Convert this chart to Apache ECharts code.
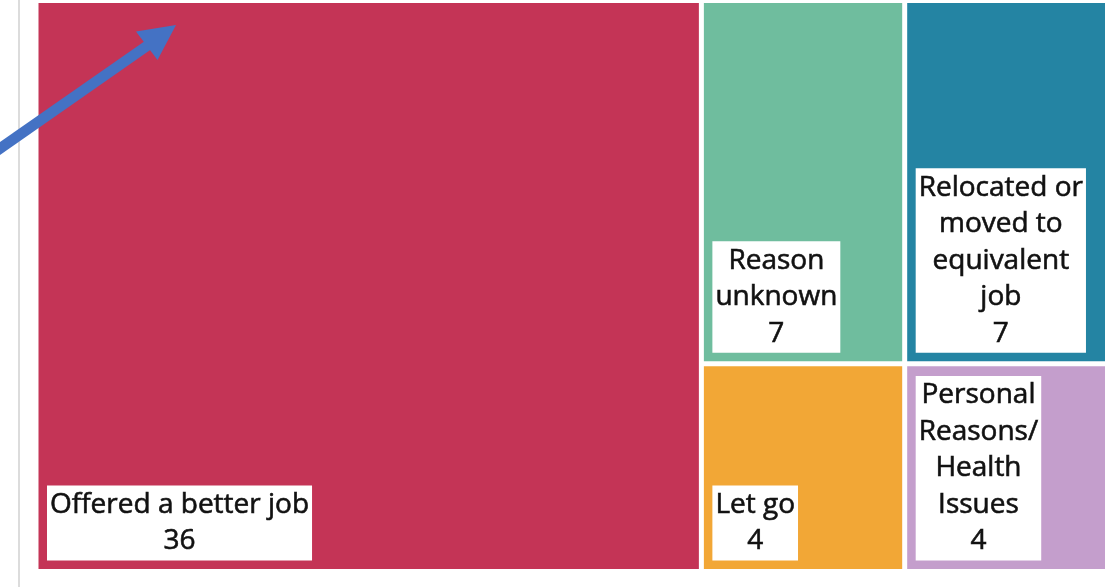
<!DOCTYPE html>
<html>
<head>
<meta charset="utf-8">
<script src="https://cdn.jsdelivr.net/npm/echarts@6/dist/echarts.min.js"></script>
<style>
html,body{margin:0;padding:0;background:#fff;}
#chart{width:1105px;height:587px;}
</style>
</head>
<body>
<div id="chart"></div>
<script>
var categories = ['Offered a better job', 'Reason unknown', 'Relocated or moved to equivalent job', 'Let go', 'Personal Reasons/Health Issues'];
var labelLines = [
  ['Offered a better job'],
  ['Reason', 'unknown'],
  ['Relocated or', 'moved to', 'equivalent', 'job'],
  ['Let go'],
  ['Personal', 'Reasons/', 'Health', 'Issues']
];
var values = [36, 7, 7, 4, 4];
var colors = ['#C43456', '#6FBD9E', '#2484A3', '#F2A736', '#C49ECC'];

var FONT = '"Open Sans", sans-serif';
var FONT_SIZE = 28;
var LINE_H = 36.5;
var LABEL_GAP = 8.5;
var TM_LEFT = 38.5, TM_TOP = 3, TM_W = 1067, TM_H = 566;

var data = categories.map(function (name, i) {
  return { name: name, value: values[i], itemStyle: { color: colors[i] } };
});

var chart = echarts.init(document.getElementById('chart'));
var baseGraphic = [
  { type: 'line', shape: { x1: 19, y1: 0, x2: 19, y2: 587 }, style: { stroke: '#dcdcdc', lineWidth: 2 }, z: 10 },
  { type: 'line', shape: { x1: -5, y1: 152, x2: 149, y2: 44.5 }, style: { stroke: '#4472C4', lineWidth: 10.5 }, z: 20 },
  { type: 'polygon', shape: { points: [[176, 25], [136, 31.5], [157.5, 60]] }, style: { fill: '#4472C4' }, z: 20 }
];
chart.setOption({
  animation: false,
  series: [{
    type: 'treemap',
    left: TM_LEFT,
    top: TM_TOP,
    width: TM_W,
    height: TM_H,
    sort: false,
    roam: false,
    nodeClick: false,
    silent: true,
    breadcrumb: { show: false },
    itemStyle: { borderWidth: 0, gapWidth: 5, borderColor: '#fff' },
    label: { show: false },
    upperLabel: { show: false },
    emphasis: { disabled: true },
    data: data
  }]
});

// Labels placed from the treemap's own computed layout
var labels = [];
try {
  var sm = chart.getModel().getSeriesByIndex(0);
  var root = sm.getData().tree.root;
  var li = sm.layoutInfo || { x: TM_LEFT, y: TM_TOP };
  var rl = root.getLayout() || { x: 0, y: 0 };
  root.children.forEach(function (node) {
    var lay = node.getLayout();
    var idx = categories.indexOf(node.name);
    var lines = labelLines[idx].concat([String(values[idx])]);
    labels.push({
      type: 'text',
      z: 30,
      x: li.x + (rl.x || 0) + lay.x + LABEL_GAP,
      y: li.y + (rl.y || 0) + lay.y + lay.height - LABEL_GAP,
      style: {
        text: lines.map(function (l) { return '{c|' + l + '}'; }).join('\n'),
        align: 'left',
        verticalAlign: 'bottom',
        backgroundColor: '#fff',
        padding: [1, 3, 1, 3],
        fontFamily: FONT,
        fontSize: FONT_SIZE,
        lineHeight: LINE_H,
        fill: '#111',
        rich: {
          c: {
            align: 'center', fontFamily: FONT, fontSize: FONT_SIZE, lineHeight: LINE_H,
            fill: '#111', stroke: '#111', lineWidth: 0.6
          }
        }
      }
    });
  });
} catch (e) { console.error(e); }

chart.setOption({ graphic: baseGraphic.concat(labels) });
</script>
</body>
</html>
